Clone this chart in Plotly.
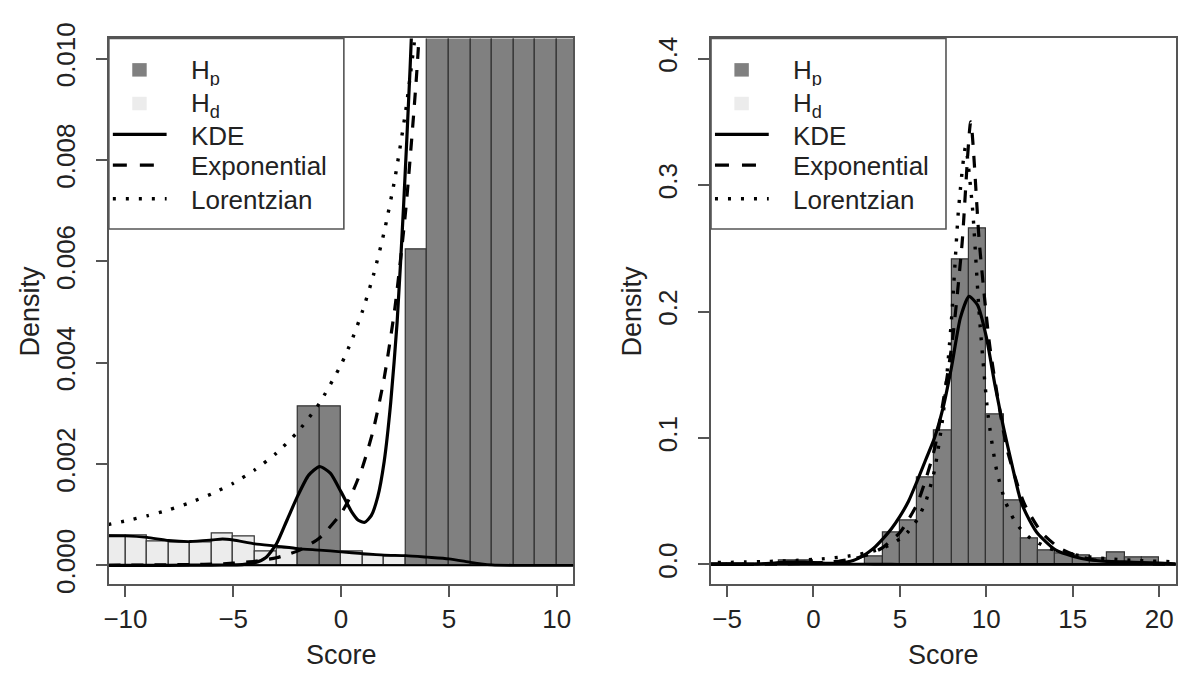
import plotly.graph_objects as go

# ---------------- data ----------------
# histogram bins (width 1), given by their left edges
hp_bin_left = [-2, -1, 0, 1, 2, 3, 4, 5, 6, 7, 8, 9, 10, 11, 12, 13, 14, 15, 16, 17, 18, 19]
hp_density = [0.00313, 0.00313, 0.0, 0.0, 0.0, 0.00624, 0.0253, 0.035, 0.069, 0.106, 0.241, 0.2656,
              0.1185, 0.0506, 0.0208, 0.0111, 0.0085, 0.0075, 0.005, 0.0095, 0.0055, 0.0055]
hd_bin_left = [-11, -10, -9, -8, -7, -6, -5, -4, -3, -2, -1, 0, 1, 2, 3, 4]
hd_density = [0.000584, 0.000584, 0.000476, 0.000457, 0.000457, 0.000635, 0.000571, 0.000267,
              0.00033, 0.0003, 0.00028, 0.000267, 0.000203, 0.000171, 0.00019, 0.00015]

# KDE of Hp
kde_hp_x = [-10.8, -8, -6, -5, -4.5, -4, -3.5, -3, -2.5, -2, -1.5, -1, -0.5, 0, 0.5, 0.8, 1.1, 1.4,
            1.7, 2.0, 2.3, 2.6, 2.9, 3.2, 3.5, 4, 4.5, 5, 5.5, 6, 6.5, 7, 7.5, 8, 8.5, 9, 9.5, 10,
            10.5, 11, 11.5, 12, 12.5, 13, 14, 15, 16, 17, 18, 19, 20, 21]
kde_hp_y = [0.0, 0.0, 0.000005, 0.00001, 0.00002, 0.00005, 0.00015, 0.00042, 0.0009, 0.00138,
            0.00178, 0.00195, 0.00182, 0.00145, 0.00105, 0.00089, 0.00085, 0.00098, 0.00135,
            0.00205, 0.0032, 0.0048, 0.0071, 0.0098, 0.013, 0.02, 0.028, 0.038, 0.05, 0.066,
            0.083, 0.1, 0.124, 0.157, 0.195, 0.212, 0.205, 0.18, 0.142, 0.108, 0.078, 0.05,
            0.035, 0.024, 0.0115, 0.0065, 0.0035, 0.0025, 0.002, 0.0015, 0.001, 0.0005]

# KDE of Hd
kde_hd_x = [-10.8, -10, -9, -8, -7, -6, -5.5, -5, -4, -3, -2, -1, 0, 1, 2, 3, 4, 5, 6, 6.5, 7, 8, 21]
kde_hd_y = [0.000584, 0.00058, 0.00055, 0.00049, 0.00047, 0.0005, 0.00052, 0.0005, 0.000425,
            0.00038, 0.00033, 0.0003, 0.000267, 0.00023, 0.0002, 0.00019, 0.00016, 0.000127,
            0.00006, 0.00003, 0.00001, 0.0, 0.0]

# Exponential fit
exp_x = [-10.8, -6, -5, -4, -3, -2, -1, 0, 0.5, 1, 1.5, 2, 2.5, 3, 3.5, 4, 5, 6, 7, 8, 8.6, 9.1,
         9.6, 10.2, 11.2, 12.2, 13.2, 14.2, 15.2, 16.2, 17.2, 18.2, 19.2, 21]
exp_y = [0.000001, 0.000022, 0.000042, 0.000079, 0.00015, 0.000285, 0.00054, 0.001025, 0.001413,
         0.001947, 0.00268, 0.003696, 0.00509, 0.007014, 0.009663, 0.01331, 0.02528, 0.04799,
         0.0911, 0.1729, 0.254, 0.35, 0.254, 0.1729, 0.0911, 0.04799, 0.02528, 0.01331,
         0.007014, 0.003696, 0.001947, 0.001025, 0.00054, 0.00017]

# Lorentzian fit
lor_x = [-10.8, -10, -9, -8, -7, -6, -5, -4, -3, -2, -1, 0, 0.5, 1, 1.5, 2, 2.5, 3, 3.5, 4, 4.5,
         5, 5.5, 6, 6.5, 7, 7.5, 8, 8.4, 8.8, 9.2, 9.6, 10.1, 10.6, 11.1, 11.6, 12.1, 12.6, 13.6,
         14.6, 15.6, 16.6, 17.6, 18.6, 19.6, 20.6, 21]
lor_y = [0.000806, 0.000876, 0.000977, 0.001096, 0.001239, 0.001411, 0.001622, 0.001884, 0.002215,
         0.00264, 0.003202, 0.003961, 0.004447, 0.005026, 0.005726, 0.006581, 0.007642, 0.008979,
         0.0107, 0.01295, 0.01598, 0.02019, 0.02625, 0.03536, 0.04984, 0.07428, 0.1181, 0.1964,
         0.282, 0.33, 0.282, 0.1964, 0.1181, 0.07428, 0.04984, 0.03536, 0.02625, 0.02019,
         0.01295, 0.008979, 0.006581, 0.005026, 0.003961, 0.003202, 0.00264, 0.002215, 0.002073]

left_xticks = [-10, -5, 0, 5, 10]
left_yticks = [0.0, 0.002, 0.004, 0.006, 0.008, 0.010]
left_yticktext = ["0.000", "0.002", "0.004", "0.006", "0.008", "0.010"]
right_xticks = [-5, 0, 5, 10, 15, 20]
right_yticks = [0.0, 0.1, 0.2, 0.3, 0.4]
right_yticktext = ["0.0", "0.1", "0.2", "0.3", "0.4"]

legend_labels = ["H<sub>p</sub>", "H<sub>d</sub>", "KDE", "Exponential", "Lorentzian"]

# ---------------- styling / layout ----------------
W, H = 1179, 680
FONT = "Liberation Sans, Arial, Helvetica, sans-serif"
HP_COL = "#808080"
HD_COL = "#ececec"
EDGE = "#333333"
AXC = "#555555"


def px(x):
    return x / W


def py(y):
    return 1 - y / H


hp_centers = [b + 0.5 for b in hp_bin_left]
hd_centers = [b + 0.5 for b in hd_bin_left]

fig = go.Figure()

for xa, ya in (("x", "y"), ("x2", "y2")):
    fig.add_trace(go.Bar(x=hd_centers, y=hd_density, width=1, xaxis=xa, yaxis=ya,
                         marker=dict(color=HD_COL, line=dict(color=EDGE, width=1.2)),
                         showlegend=False))
    fig.add_trace(go.Bar(x=hp_centers, y=hp_density, width=1, xaxis=xa, yaxis=ya,
                         marker=dict(color=HP_COL, line=dict(color=EDGE, width=1.2)),
                         showlegend=False))
    fig.add_trace(go.Scatter(x=kde_hd_x, y=kde_hd_y, mode="lines", xaxis=xa, yaxis=ya,
                             line=dict(color="black", width=2.8, shape="spline", smoothing=0.6),
                             showlegend=False))
    fig.add_trace(go.Scatter(x=lor_x, y=lor_y, mode="lines", xaxis=xa, yaxis=ya,
                             line=dict(color="black", width=3.4, dash="3px,10px", shape="spline",
                                       smoothing=0.6),
                             showlegend=False))
    fig.add_trace(go.Scatter(x=exp_x, y=exp_y, mode="lines", xaxis=xa, yaxis=ya,
                             line=dict(color="black", width=3.2, dash="12px,11px", shape="spline",
                                       smoothing=0.6),
                             showlegend=False))
    fig.add_trace(go.Scatter(x=kde_hp_x, y=kde_hp_y, mode="lines", xaxis=xa, yaxis=ya,
                             line=dict(color="black", width=3.2, shape="spline", smoothing=0.6),
                             showlegend=False))

axis_common = dict(showline=True, mirror=True, linecolor=AXC, linewidth=1.6, ticks="outside",
                   ticklen=11, tickwidth=1.5, tickcolor=AXC, showgrid=False, zeroline=False,
                   tickfont=dict(family=FONT, size=26, color="#222"))

y_dom = [py(590.5), py(23.3)]
fig.update_layout(
    width=W, height=H, margin=dict(l=0, r=0, t=0, b=0),
    paper_bgcolor="white", plot_bgcolor="white", barmode="overlay", bargap=0,
    showlegend=False,
    xaxis=dict(domain=[px(104.3), px(570.7)], range=[-10.77, 10.77], tickvals=left_xticks,
               anchor="y", **axis_common),
    yaxis=dict(domain=y_dom, range=[-0.000367, 0.0104], tickvals=left_yticks,
               ticktext=left_yticktext, tickangle=-90, anchor="x", ticklabelstandoff=11,
               **axis_common),
    xaxis2=dict(domain=[px(709), px(1175.7)], range=[-5.93, 20.96], tickvals=right_xticks,
                anchor="y2", **axis_common),
    yaxis2=dict(domain=y_dom, range=[-0.0154, 0.416], tickvals=right_yticks,
                ticktext=right_yticktext, tickangle=-90, anchor="x2", ticklabelstandoff=11,
                **axis_common),
)

shapes = []
annotations = []
for xa, ya, x0 in (("x", "y", 104.3), ("x2", "y2", 709.0)):
    # zero line
    shapes.append(dict(type="line", xref=xa + " domain", yref=ya, x0=0, x1=1, y0=0, y1=0,
                       line=dict(color="black", width=2), layer="above"))
    # legend box
    shapes.append(dict(type="rect", xref="paper", yref="paper", x0=px(x0), x1=px(x0 + 236),
                       y0=py(221.5), y1=py(23.3), fillcolor="white",
                       line=dict(color=AXC, width=1.6), layer="above"))
    # squares
    for cy, col in ((56, HP_COL), (91, HD_COL)):
        shapes.append(dict(type="rect", xref="paper", yref="paper",
                           x0=px(x0 + 23.5), x1=px(x0 + 38), y0=py(cy + 7), y1=py(cy - 7),
                           fillcolor=col, line=dict(width=0), layer="above"))
    # line samples
    for cy, dash, wdt in ((123, "solid", 3.2), (155, "14px,13px", 3.2), (190, "3px,10px", 3.4)):
        shapes.append(dict(type="line", xref="paper", yref="paper",
                           x0=px(x0 + 4), x1=px(x0 + 58), y0=py(cy), y1=py(cy),
                           line=dict(color="black", width=wdt, dash=dash), layer="above"))
    for cy, lab in zip((58, 93, 125, 156, 191), legend_labels):
        annotations.append(dict(xref="paper", yref="paper", x=px(x0 + 80), y=py(cy),
                                xanchor="left", yanchor="middle", text=lab, showarrow=False,
                                height=28, valign="middle",
                                font=dict(family=FONT, size=26, color="#222")))
    # axis titles
    annotations.append(dict(xref="paper", yref="paper", x=px(x0 + 233.2), y=py(664),
                            xanchor="center", yanchor="middle", text="Score", showarrow=False,
                            font=dict(family=FONT, size=27, color="#222")))
    annotations.append(dict(xref="paper", yref="paper", x=px(x0 - 79), y=py(307),
                            xanchor="center", yanchor="middle", text="Density", showarrow=False,
                            textangle=-90, font=dict(family=FONT, size=27, color="#222")))

fig.update_layout(shapes=shapes, annotations=annotations)
fig.write_html("out.html")
